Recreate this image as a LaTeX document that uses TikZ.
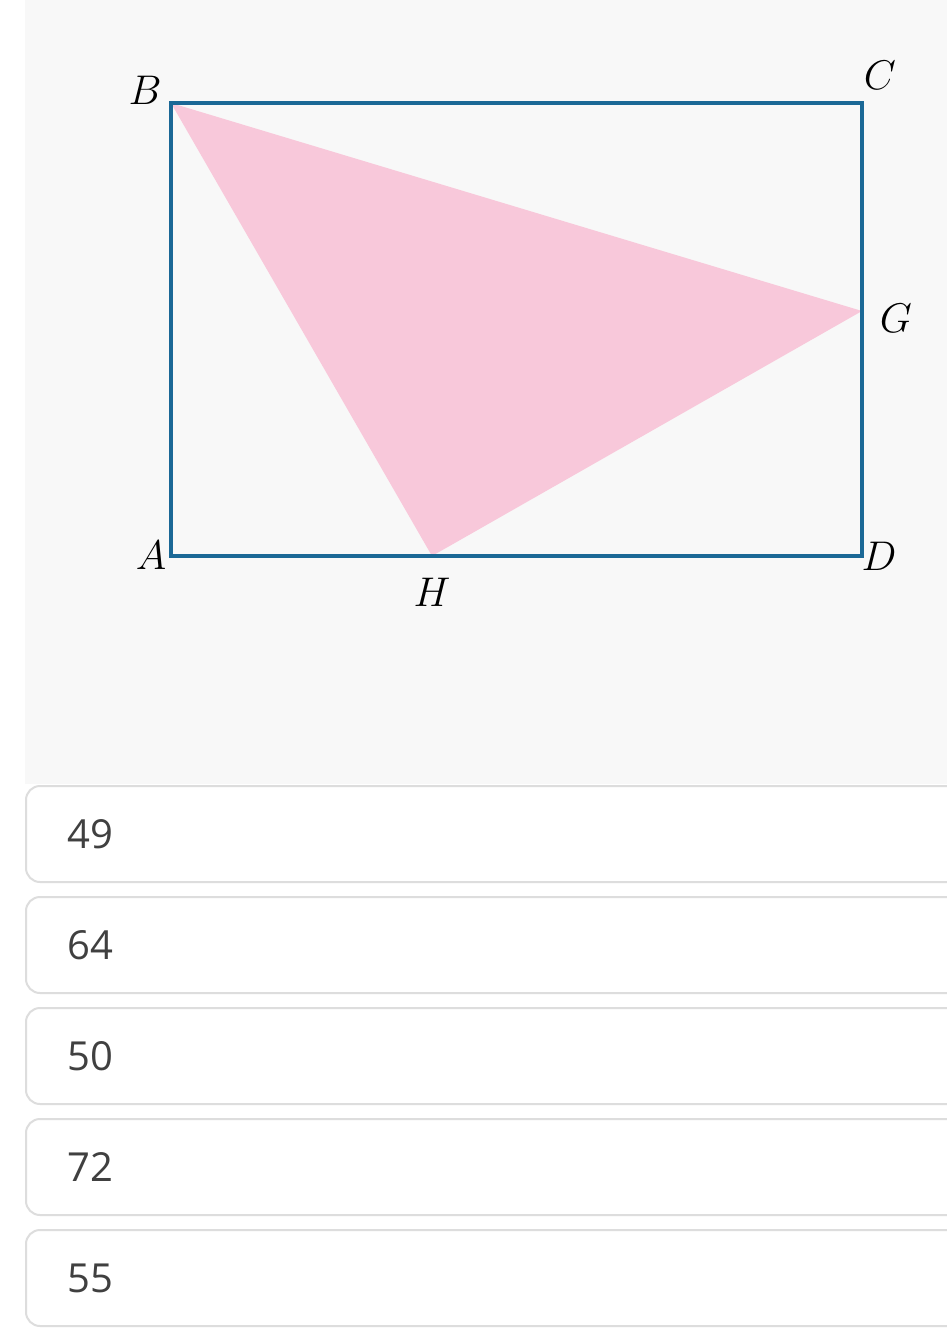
\documentclass[tikz,border=0pt]{standalone}
\usepackage{fontspec}
\newfontfamily\answerfont{Open Sans}
\definecolor{panelgray}{HTML}{F8F8F8}
\definecolor{rectblue}{HTML}{1B6896}
\definecolor{tripink}{HTML}{F8C8DA}
\definecolor{boxline}{HTML}{DDDDDD}
\definecolor{anstext}{HTML}{404040}
\tikzset{
  vlabel/.style={font=\fontsize{20}{24}\selectfont, inner sep=0pt},
  ansbox/.style={draw=boxline, line width=1pt, fill=white, rounded corners=7pt},
  anstxt/.style={font=\answerfont\fontsize{20}{24}\selectfont, text=anstext, anchor=west, inner sep=0pt}
}
\begin{document}
\begin{tikzpicture}[x=0.5pt,y=-0.5pt]

  \clip (0,0) rectangle (947,1328);
  \fill[white] (0,0) rectangle (947,1328);
  \fill[panelgray] (25,0) rectangle (947,784);

  \coordinate (A) at (171,556);
  \coordinate (B) at (171,103);
  \coordinate (C) at (862,103);
  \coordinate (D) at (862,556);
  \coordinate (G) at (862,311);
  \coordinate (H) at (432,556);

  \fill[tripink] (B) -- (G) -- (H) -- cycle;
  \draw[rectblue, line width=1.6pt] (A) -- (B) -- (C) -- (D) -- cycle;

  \node[vlabel] (lB) at (145,90)  {$B$};
  \node[vlabel] (lC) at (880,75)  {$C$};
  \node[vlabel] (lG) at (896,318) {$G$};
  \node[vlabel] (lA) at (151,555) {$A$};
  \node[vlabel] (lD) at (879,556) {$D$};
  \node[vlabel] (lH) at (432,592) {$H$};

  % answer choices
  \foreach \val [count=\i from 0] in {49,64,50,72,55} {
    \draw[ansbox] (26,{786+111*\i}) rectangle (990,{882+111*\i});
    \node[anstxt] (ans\i) at (67,{834+111*\i}) {\val};
  }

\end{tikzpicture}
\end{document}
